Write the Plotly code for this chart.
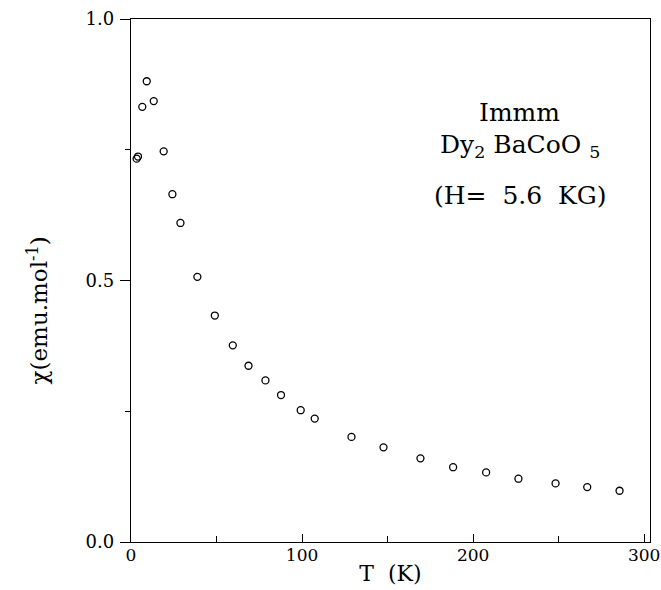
import plotly.graph_objects as go

# Temperature (K)
T = [3.3, 4.1, 6.6, 9.2, 13.3, 19.1, 24.2, 28.9, 38.8, 49.0, 59.5, 68.7, 78.6,
     87.7, 99.2, 107.4, 128.9, 147.6, 169.2, 188.3, 207.6, 226.5, 248.2, 266.7, 285.6]
# Susceptibility chi (emu/mol)
chi = [0.733, 0.737, 0.832, 0.881, 0.843, 0.747, 0.665, 0.610, 0.507, 0.433, 0.376,
       0.337, 0.309, 0.281, 0.252, 0.236, 0.201, 0.181, 0.160, 0.143, 0.133, 0.121,
       0.112, 0.105, 0.098]

x_ticks = [0, 100, 200, 300]
y_ticks = [0.0, 0.5, 1.0]
y_tick_labels = ["0.0", "0.5", "1.0"]

FONT = "DejaVu Serif"

fig = go.Figure()
fig.add_trace(go.Scatter(
    x=T, y=chi, mode="markers",
    marker=dict(symbol="circle-open", size=7, color="black", line=dict(width=1.3, color="black")),
    showlegend=False,
))

fig.update_layout(
    width=661, height=590,
    margin=dict(l=131, r=11, t=19, b=48),
    paper_bgcolor="white", plot_bgcolor="white",
    font=dict(family=FONT, color="black", size=17),
    xaxis=dict(
        range=[0, 303.4], showgrid=False, zeroline=False, automargin=False,
        showline=True, linecolor="black", linewidth=1.3, mirror=True,
        tickvals=x_ticks, ticktext=[str(v) for v in x_ticks],
        ticks="inside", ticklen=8, tickwidth=1.2, tickcolor="black",
        minor=dict(dtick=50, tick0=0, ticks="inside", ticklen=6, tickwidth=1.2, tickcolor="black"),
        tickfont=dict(family=FONT, size=17, color="black"),
        ticklabeloverflow="allow",
        ticklabelstandoff=-3,
        title=dict(text="T  (K)", font=dict(family=FONT, size=22, color="black"), standoff=2),
    ),
    yaxis=dict(
        range=[0, 1.0], showgrid=False, zeroline=False, automargin=False,
        showline=True, linecolor="black", linewidth=1.3, mirror=True,
        tickvals=y_ticks, ticktext=y_tick_labels,
        ticks="outside", ticklen=10, tickwidth=1.2, tickcolor="black",
        minor=dict(dtick=0.25, tick0=0, ticks="outside", ticklen=5, tickwidth=1.2, tickcolor="black"),
        tickfont=dict(family=FONT, size=18, color="black"),
        ticklabelstandoff=2,
    ),
)

# y-axis title (placed slightly below the axis centre, as in the reference)
fig.add_annotation(text="χ(emu.mol<sup>-1</sup>)", xref="paper", yref="paper",
                   x=-0.179, y=0.443, textangle=-90, showarrow=False,
                   xanchor="center", yanchor="middle",
                   font=dict(family=FONT, size=23, color="black"))

annots = [
    ("Immm", 0.822),
    ("Dy<sub>2</sub> BaCoO <sub>5</sub>", 0.757),
    ("(H=  5.6  KG)", 0.663),
]
for txt, yy in annots:
    fig.add_annotation(text=txt, xref="paper", yref="paper", x=0.749, y=yy,
                       showarrow=False, xanchor="center", yanchor="middle",
                       font=dict(family=FONT, size=25, color="black"))

fig.write_html("out.html", config={"displayModeBar": False},
               post_script="document.body.style.margin='0px';")
